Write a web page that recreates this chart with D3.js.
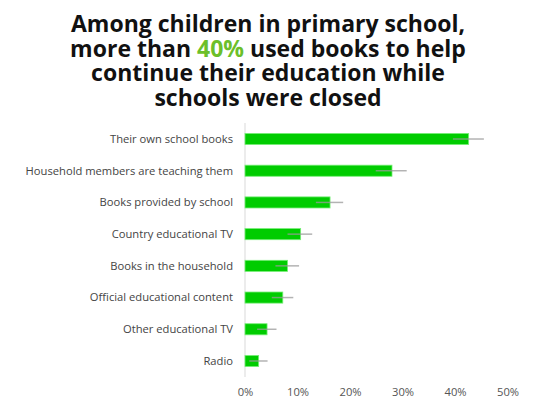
<!DOCTYPE html>
<html>
<head>
<meta charset="utf-8">
<script src="https://cdn.jsdelivr.net/npm/d3@7"></script>
<style>
  body { margin: 0; background: #fff; }
  svg { display: block; }
</style>
</head>
<body>
<div class="container"></div>
<script>
const width = 540;
const height = 412;

const categories = [
    'Their own school books',
    'Household members are teaching them',
    'Books provided by school',
    'Country educational TV',
    'Books in the household',
    'Official educational content',
    'Other educational TV',
    'Radio',
];
const values = [42.6, 28.0, 16.2, 10.6, 8.1, 7.2, 4.2, 2.6];
const errLow = [39.6, 24.9, 13.5, 8.1, 5.8, 5.1, 2.3, 0.8];
const errHigh = [45.5, 30.8, 18.7, 12.8, 10.3, 9.2, 6.0, 4.3];
const xTicks = [0, 10, 20, 30, 40, 50];

const titleLines = [
    [['Among children in primary school,', false]],
    [['more than ', false], ['40%', true], [' used books to help', false]],
    [['continue their education while', false]],
    [['schools were closed', false]],
];

const svg = d3.select('.container')
    .append('svg')
    .attr('width', width)
    .attr('height', height);

// title, one text per line
titleLines.forEach((line, i) => {
    const t = svg.append('text')
        .attr('class', 'title')
        .attr('x', 268)
        .attr('y', 32 + i * 24.5)
        .attr('text-anchor', 'middle')
        .attr('font-family', 'Open Sans')
        .attr('font-weight', 700)
        .attr('font-size', 23)
        .attr('fill', '#111');
    line.forEach(([s, hi]) => {
        t.append('tspan')
            .attr('fill', hi ? '#6cbf2a' : '#111')
            .text(s);
    });
});

const x = d3.scaleLinear().domain([0, 50]).range([245, 507.5]);
const y = d3.scaleBand().domain(categories).range([123, 377]).paddingInner(0.65).paddingOuter(0.33);

// baseline
svg.append('line')
    .attr('x1', x(0)).attr('x2', x(0))
    .attr('y1', 123).attr('y2', 377)
    .attr('stroke', '#e6e6e6')
    .attr('stroke-width', 1.5);

svg.selectAll('.bar')
    .data(categories)
    .enter()
    .append('rect')
    .attr('class', 'bar')
    .attr('x', x(0))
    .attr('y', d => y(d))
    .attr('width', (d, i) => x(values[i]) - x(0))
    .attr('height', y.bandwidth())
    .attr('fill', '#00cc00')
    .attr('stroke', '#77ee77')
    .attr('stroke-width', 0.8);

svg.selectAll('.err')
    .data(categories)
    .enter()
    .append('line')
    .attr('class', 'err')
    .attr('x1', (d, i) => x(errLow[i]))
    .attr('x2', (d, i) => x(errHigh[i]))
    .attr('y1', d => y(d) + y.bandwidth() / 2)
    .attr('y2', d => y(d) + y.bandwidth() / 2)
    .attr('stroke', '#999')
    .attr('stroke-opacity', 0.75)
    .attr('stroke-width', 1.5);

svg.selectAll('.cat')
    .data(categories)
    .enter()
    .append('text')
    .attr('class', 'cat')
    .attr('x', 233)
    .attr('y', d => y(d) + y.bandwidth() / 2)
    .attr('dy', '0.35em')
    .attr('text-anchor', 'end')
    .attr('font-family', 'Open Sans')
    .attr('font-size', 11.2)
    .attr('fill', '#444')
    .text(d => d);

const xAxis = svg.append('g')
    .attr('transform', 'translate(0,392)')
    .call(d3.axisBottom(x).tickValues(xTicks).tickFormat(d => d + '%').tickSize(0).tickPadding(0));
xAxis.select('.domain').remove();
xAxis.selectAll('text')
    .attr('dy', '0.35em')
    .attr('font-family', 'Open Sans')
    .attr('font-size', 11.2)
    .attr('fill', '#555');
</script>
</body>
</html>
